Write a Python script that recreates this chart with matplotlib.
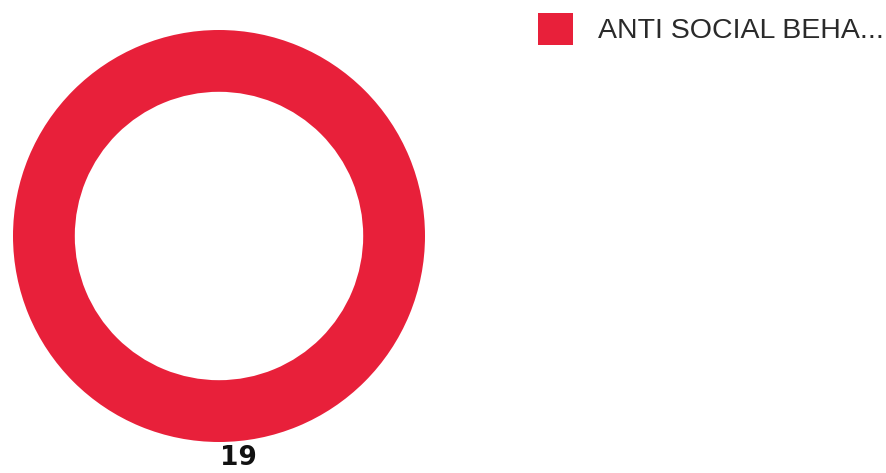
import matplotlib
matplotlib.use("Agg")
import matplotlib.pyplot as plt
from matplotlib.patches import Patch

# Données du graphique
categories = ["ANTI SOCIAL BEHA..."]
valeurs = [19]
couleurs = ["#E8203A"]

fig = plt.figure(figsize=(8.86, 4.73), dpi=100)

# Axe du donut, placé en pixels puis converti en fractions de figure
W, H = 886, 473
ax = fig.add_axes([13 / W, (H - 442) / H, 412 / W, 412 / H])
ax.pie(valeurs, colors=couleurs, radius=1.0, startangle=90,
       wedgeprops=dict(width=0.30, edgecolor="none"))
ax.set_xlim(-1, 1)
ax.set_ylim(-1, 1)
ax.set_aspect("equal")
ax.axis("off")

# Étiquette de valeur sous l'anneau
fig.text(238 / W, 1 - 458 / H, str(valeurs[0]), ha="center", va="center",
         fontsize=19, fontweight="bold", family="DejaVu Sans", color="#111111")

# Légende en haut à droite
handles = [Patch(facecolor=c, edgecolor="none") for c in couleurs]
fig.legend(handles, categories, loc="upper left",
           bbox_to_anchor=(538 / W, 1 - 13 / H), frameon=False,
           borderpad=0, borderaxespad=0,
           prop={"family": "Liberation Sans", "size": 20.5},
           handlelength=1.23, handleheight=1.35, handletextpad=0.88,
           labelcolor="#2a2a2a")

fig.savefig("out.png", dpi=100, facecolor="white")
